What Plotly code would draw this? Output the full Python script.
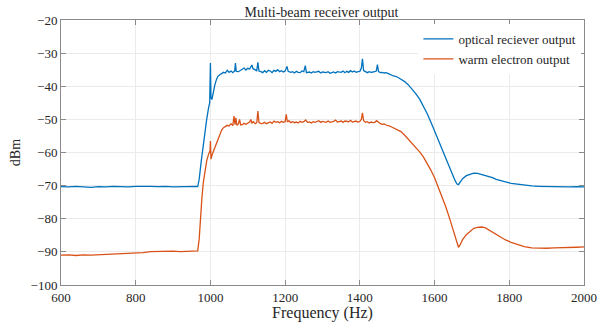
import plotly.graph_objects as go

# ---- data ----
blue_f = [600, 620, 640, 660, 680, 700, 720, 740, 760, 780, 800, 820, 840, 860, 880, 900, 920, 940, 960, 966,
          970, 975, 980, 985, 990, 995, 998, 1000, 1001.5, 1004, 1008, 1012, 1016, 1020, 1025, 1030, 1035, 1040,
          1045, 1050, 1055, 1060, 1065, 1067, 1069, 1075, 1080, 1085, 1090, 1095, 1100, 1105, 1108, 1111, 1114,
          1120, 1124, 1127, 1130, 1135, 1140, 1145, 1150, 1155, 1160, 1165, 1170, 1175, 1180, 1185, 1190, 1195,
          1200, 1205, 1208, 1215, 1220, 1225, 1230, 1235, 1240, 1245, 1250, 1254, 1257, 1265, 1270, 1275, 1280,
          1290, 1295, 1300, 1310, 1315, 1320, 1330, 1335, 1340, 1350, 1355, 1360, 1365, 1370, 1375, 1380, 1385,
          1390, 1395, 1400, 1404, 1407, 1410, 1415, 1420, 1425, 1430, 1435, 1440, 1444, 1447, 1450, 1455, 1460,
          1465, 1470, 1475, 1480, 1485, 1490, 1495, 1500, 1510, 1520, 1530, 1540, 1550, 1560, 1570, 1580, 1590,
          1600, 1610, 1620, 1630, 1640, 1650, 1655, 1660, 1664, 1668, 1675, 1685, 1695, 1705, 1715, 1725, 1735,
          1745, 1755, 1765, 1775, 1790, 1805, 1820, 1840, 1860, 1880, 1900, 1920, 1940, 1960, 1980, 2000]
blue_db = [-70.3, -70.4, -70.2, -70.3, -70.5, -70.3, -70.4, -70.2, -70.3, -70.4, -70.2, -70.1, -70.2, -70.3,
           -70.2, -70.4, -70.3, -70.3, -70.2, -70.3,
           -68.0, -63.0, -58.0, -54.0, -50.0, -46.5, -45.0, -33.0, -43.5, -44.0, -41.5, -39.5, -38.0, -37.0,
           -36.5, -36.2, -35.8, -36.0, -35.2, -35.8, -35.4, -35.9, -35.3, -33.0, -35.5, -35.6, -35.2, -35.0,
           -34.5, -35.1, -34.6, -34.8, -34.0, -33.6, -34.7, -35.0, -35.3, -32.8, -35.4, -35.6, -35.9, -35.3,
           -35.8, -35.2, -35.4, -35.9, -35.2, -35.5, -35.0, -35.6, -35.3, -35.7, -35.4, -34.0, -35.5, -35.8,
           -35.6, -36.0, -35.5, -35.8, -35.9, -35.4, -35.6, -33.8, -35.9, -35.7, -36.0, -35.6, -35.8, -35.5,
           -36.0, -35.7, -35.9, -35.6, -36.1, -35.7, -36.0, -35.6, -35.8, -35.4, -35.9, -35.5, -35.8, -35.3,
           -35.7, -35.4, -35.8, -35.6, -35.5, -34.5, -31.7, -35.3, -35.7, -35.9, -35.6, -35.8, -35.7, -35.6,
           -35.4, -33.5, -35.6, -35.9, -35.8, -36.0, -35.9, -36.1, -36.4, -36.6, -36.9, -37.0, -37.2, -37.9,
           -38.6, -39.6, -40.9, -42.3, -43.9, -45.9, -48.2, -50.8, -53.5, -56.4, -59.2, -62.0, -64.3, -67.0,
           -68.5, -69.5, -69.7, -69.0, -67.9, -67.0, -66.5, -66.2, -66.3, -66.6, -66.8, -67.2, -67.6, -68.1,
           -68.5, -68.9, -69.3, -69.5, -69.9, -70.1, -70.2, -70.3, -70.4, -70.3, -70.4, -70.3, -70.4]

red_f = [600, 620, 640, 660, 680, 700, 720, 740, 760, 780, 800, 820, 840, 860, 880, 900, 920, 940, 960, 966,
         970, 973, 977, 981, 985, 990, 995, 999, 1000, 1001.5, 1005, 1010, 1015, 1020, 1025, 1030, 1035, 1040,
         1045, 1050, 1055, 1060, 1063, 1066, 1068, 1071, 1075, 1078, 1081, 1085, 1090, 1095, 1100, 1105, 1108,
         1111, 1115, 1120, 1124, 1127, 1130, 1135, 1140, 1145, 1150, 1155, 1160, 1165, 1170, 1175, 1180, 1185,
         1190, 1195, 1200, 1203, 1206, 1210, 1215, 1220, 1225, 1230, 1235, 1240, 1245, 1250, 1255, 1260, 1265,
         1270, 1275, 1280, 1290, 1295, 1300, 1310, 1315, 1320, 1330, 1335, 1340, 1350, 1355, 1360, 1370, 1375,
         1380, 1390, 1395, 1400, 1404, 1407, 1410, 1415, 1420, 1425, 1430, 1435, 1440, 1445, 1450, 1455, 1460,
         1465, 1470, 1475, 1480, 1485, 1490, 1495, 1500, 1505, 1510, 1520, 1530, 1540, 1550, 1560, 1570, 1580,
         1590, 1600, 1610, 1620, 1630, 1640, 1650, 1655, 1660, 1664, 1668, 1675, 1685, 1695, 1705, 1715, 1725,
         1735, 1745, 1755, 1765, 1775, 1790, 1805, 1820, 1840, 1860, 1880, 1900, 1920, 1940, 1960, 1980, 2000]
red_db = [-91.0, -90.9, -91.1, -90.9, -91.0, -90.9, -90.7, -90.5, -90.4, -90.4, -90.3, -90.2, -89.9, -89.8,
          -89.9, -89.8, -89.9, -89.8, -89.9, -89.7,
          -86.0, -80.0, -74.0, -69.0, -65.5, -62.5, -60.5, -59.5, -56.5, -62.0, -60.5, -59.0, -57.5, -56.0,
          -54.5, -53.2, -52.5, -52.2, -51.8, -52.0, -51.3, -51.9, -49.0, -51.6, -49.5, -51.8, -51.4, -50.0,
          -51.7, -51.6, -51.2, -51.5, -51.0, -50.8, -50.0, -51.1, -50.7, -51.3, -51.0, -47.5, -51.0, -51.3,
          -51.2, -50.9, -51.3, -51.0, -50.8, -51.2, -50.5, -50.9, -50.7, -51.0, -50.6, -50.9, -50.7, -48.5,
          -50.8, -50.4, -51.0, -50.7, -51.0, -50.8, -51.1, -50.6, -50.9, -50.7, -50.2, -50.9, -50.8, -51.1,
          -50.7, -50.9, -50.4, -50.9, -50.6, -50.9, -50.5, -50.9, -50.6, -50.2, -50.8, -50.5, -50.9, -50.5,
          -50.7, -50.3, -50.8, -50.5, -50.9, -50.6, -50.0, -48.0, -50.4, -50.9, -50.7, -51.1, -50.8, -51.0,
          -50.9, -50.4, -51.0, -51.3, -51.5, -51.4, -51.7, -51.8, -52.0, -52.3, -52.6, -52.8, -53.0, -53.3,
          -53.7, -54.8, -56.0, -57.2, -58.5, -59.8, -61.3, -63.2, -65.3, -67.6, -70.5, -73.2, -76.4, -79.8,
          -83.5, -85.8, -87.6, -88.6, -88.0, -86.3, -84.8, -83.8, -82.9, -82.6, -82.5, -82.7, -83.4, -84.2,
          -84.9, -85.5, -86.4, -87.1, -87.7, -88.4, -88.8, -88.9, -88.9, -88.8, -88.8, -88.7, -88.6, -88.5]

x_ticks = [600, 800, 1000, 1200, 1400, 1600, 1800, 2000]
y_ticks = [-100, -90, -80, -70, -60, -50, -40, -30, -20]

FONT = "Liberation Serif, Times New Roman, serif"
AXCOL = "#8a8a8a"

fig = go.Figure()
fig.add_trace(go.Scatter(x=blue_f, y=blue_db, mode="lines", name="optical reciever output",
                         line=dict(color="#0072BD", width=1.3)))
fig.add_trace(go.Scatter(x=red_f, y=red_db, mode="lines", name="warm electron output",
                         line=dict(color="#D95319", width=1.3)))

axis_common = dict(showline=True, linecolor=AXCOL, linewidth=1, mirror="allticks",
                   ticks="inside", ticklen=5, tickcolor=AXCOL, showgrid=True,
                   gridcolor="#ebebeb", gridwidth=1, zeroline=False, automargin=False,
                   tickfont=dict(family=FONT, size=13, color="#262626"))

fig.update_xaxes(range=[600, 2000], tickvals=x_ticks, ticktext=[str(v) for v in x_ticks],
                 title=dict(text="Frequency (Hz)", font=dict(family=FONT, size=16, color="#262626"),
                            standoff=4),
                 **axis_common)
fig.update_yaxes(range=[-100, -20], tickvals=y_ticks,
                 ticktext=["\u2212" + str(abs(v)) for v in y_ticks],
                 title=dict(text="dBm", font=dict(family=FONT, size=14, color="#262626"), standoff=6),
                 **axis_common)

fig.update_layout(
    width=609, height=322,
    margin=dict(l=61, r=25, t=20, b=37, autoexpand=False),
    paper_bgcolor="white", plot_bgcolor="white",
    title=dict(text="Multi-beam receiver output", x=0.528, xanchor="center", y=0.962, yanchor="middle",
               font=dict(family=FONT, size=14, color="#262626")),
    legend=dict(x=0.995, xanchor="right", y=0.985, yanchor="top", bgcolor="white",
                borderwidth=0, font=dict(family=FONT, size=13, color="#262626"),
                tracegroupgap=0, itemwidth=30),
    showlegend=True,
)

fig.write_html("out.html")
